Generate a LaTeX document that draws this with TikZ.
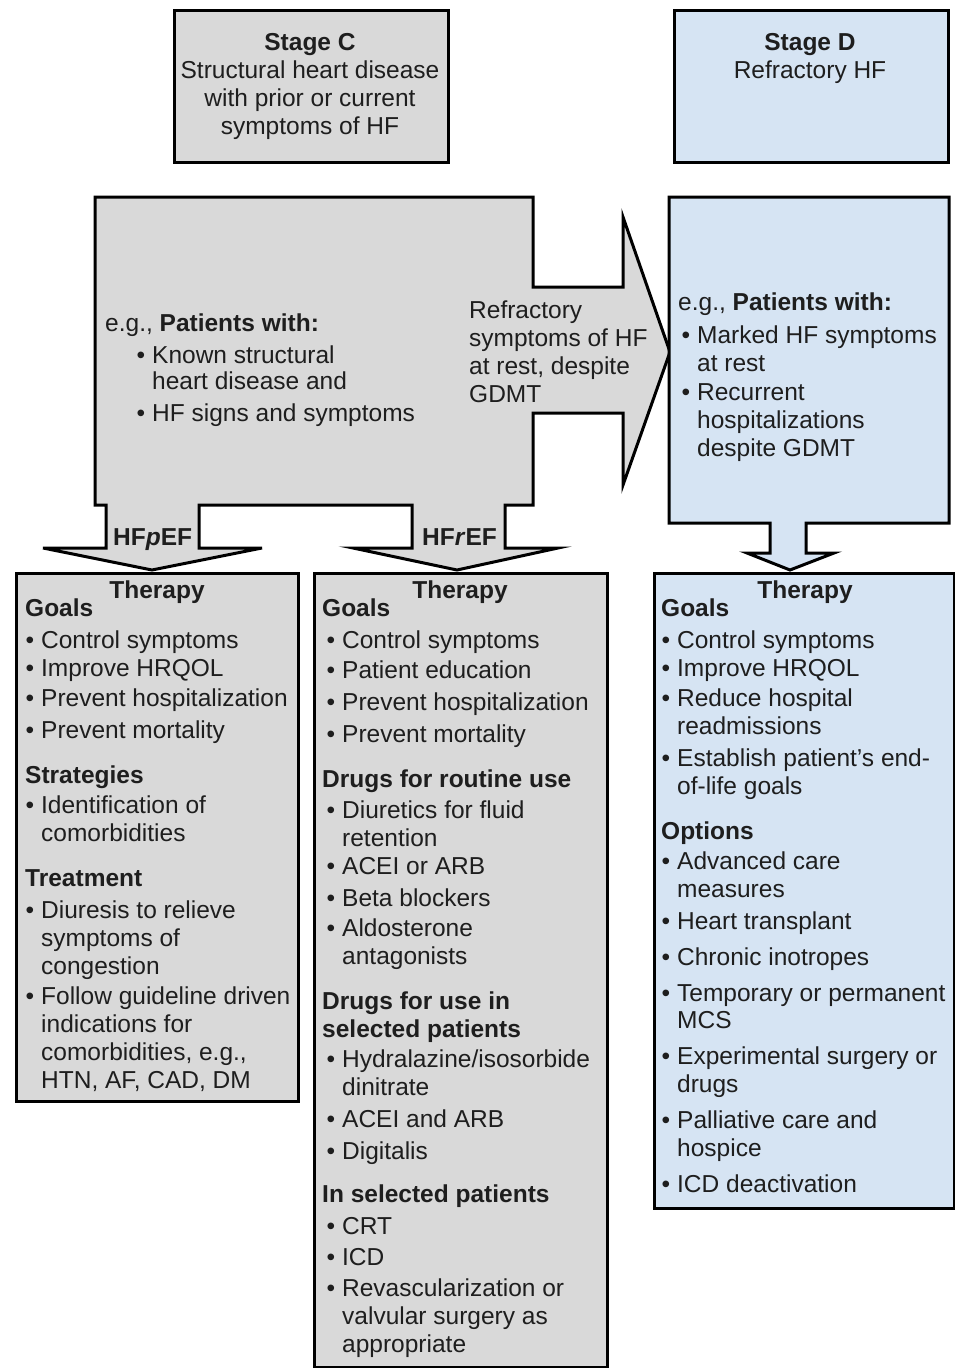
\documentclass[tikz,border=0pt]{standalone}
\usepackage{fontspec}
\setmainfont{Liberation Sans}
\definecolor{gfill}{RGB}{217,217,217}
\definecolor{bfill}{RGB}{214,228,243}
\definecolor{ink}{RGB}{30,30,30}
\newcounter{lnc}
\newcommand{\Tl}[3]{\stepcounter{lnc}\node[tl] (ln\arabic{lnc}) at (#1,#2+8.5) {#3};}
\newcommand{\Tc}[3]{\stepcounter{lnc}\node[tc] (ln\arabic{lnc}) at (#1,#2+8.5) {#3};}
\newcommand{\Tb}[3]{\stepcounter{lnc}\node[tl] (ln\arabic{lnc}) at (#1,#2+8.5) {\llap{\textbullet\hspace{7pt}}#3};}
\tikzset{
  tl/.style={anchor=base west, inner sep=0pt, text=ink, font=\fontsize{24.5}{28}\selectfont},
  tc/.style={anchor=base, inner sep=0pt, text=ink, font=\fontsize{24.5}{28}\selectfont},
  outl/.style={draw=black, line width=3pt, line join=miter},
  boxg/.style={outl, fill=gfill, anchor=north west, inner sep=0pt},
  boxb/.style={outl, fill=bfill, anchor=north west, inner sep=0pt},
}
\begin{document}
\begin{tikzpicture}[x=1pt, y=-1pt]
\useasboundingbox (0,0) rectangle (954,1368);
\fill[white] (0,0) rectangle (954,1368);
% top stage boxes
\node[boxg, minimum width=274pt, minimum height=152pt] (stC) at (173,9) {};
\node[boxb, minimum width=274pt, minimum height=152pt] (stD) at (673,9) {};
% big stage C shape with arrows
\draw[outl, fill=gfill] (95,197) -- (533,197) -- (533,287) -- (623,287) -- (623,217)
  -- (670,352) -- (623,485) -- (623,413) -- (533,413) -- (533,505) -- (505,505)
  -- (505,548) -- (558,548) -- (457,570) -- (353,548) -- (412,548) -- (412,505)
  -- (199,505) -- (199,548) -- (262,548) -- (152,570) -- (43,548) -- (106,548)
  -- (106,505) -- (95,505) -- cycle;
% stage D middle box with arrow
\draw[outl, fill=bfill] (669,197) -- (949,197) -- (949,523) -- (806,523) -- (806,553)
  -- (834,553) -- (790,570) -- (747,553) -- (770,553) -- (770,523) -- (669,523) -- cycle;
% therapy boxes
\node[boxg, minimum width=282pt, minimum height=528pt] (thL) at (15,572) {};
\node[boxg, minimum width=293pt, minimum height=794pt] (thM) at (313,572) {};
\node[boxb, minimum width=300pt, minimum height=635pt] (thR) at (653,572) {};
% stage texts
\Tc{310}{42}{\textbf{Stage C}}
\Tc{310}{70}{Structural heart disease}
\Tc{310}{98}{with prior or current}
\Tc{310}{126}{symptoms of HF}
\Tc{810}{42}{\textbf{Stage D}}
\Tc{810}{70}{Refractory HF}
% big box text
\Tl{105}{323}{e.g., \textbf{Patients with:}}
\Tb{152}{355}{Known structural}
\Tl{152}{381}{heart disease and}
\Tb{152}{413}{HF signs and symptoms}
\Tl{469}{310}{Refractory}
\Tl{469}{338}{symptoms of HF}
\Tl{469}{366}{at rest, despite}
\Tl{469}{394}{GDMT}
% stage D box text
\Tl{678}{302}{e.g., \textbf{Patients with:}}
\Tb{697}{335}{Marked HF symptoms}
\Tl{697}{363}{at rest}
\Tb{697}{392}{Recurrent}
\Tl{697}{420}{hospitalizations}
\Tl{697}{448}{despite GDMT}
% arrow labels
\Tl{113}{537}{\textbf{HF\textit{p}EF}}
\Tl{422}{537}{\textbf{HF\textit{r}EF}}
% left therapy
\Tc{157}{590}{\textbf{Therapy}}
\Tl{25}{608}{\textbf{Goals}}
\Tb{41}{640}{Control symptoms}
\Tb{41}{668}{Improve HRQOL}
\Tb{41}{698}{Prevent hospitalization}
\Tb{41}{730}{Prevent mortality}
\Tl{25}{775}{\textbf{Strategies}}
\Tb{41}{805}{Identification of}
\Tl{41}{833}{comorbidities}
\Tl{25}{878}{\textbf{Treatment}}
\Tb{41}{910}{Diuresis to relieve}
\Tl{41}{938}{symptoms of}
\Tl{41}{966}{congestion}
\Tb{41}{996}{Follow guideline driven}
\Tl{41}{1024}{indications for}
\Tl{41}{1052}{comorbidities, e.g.,}
\Tl{41}{1080}{HTN, AF, CAD, DM}
% middle therapy
\Tc{460}{590}{\textbf{Therapy}}
\Tl{322}{608}{\textbf{Goals}}
\Tb{342}{640}{Control symptoms}
\Tb{342}{670}{Patient education}
\Tb{342}{702}{Prevent hospitalization}
\Tb{342}{734}{Prevent mortality}
\Tl{322}{779}{\textbf{Drugs for routine use}}
\Tb{342}{810}{Diuretics for fluid}
\Tl{342}{838}{retention}
\Tb{342}{866}{ACEI or ARB}
\Tb{342}{898}{Beta blockers}
\Tb{342}{928}{Aldosterone}
\Tl{342}{956}{antagonists}
\Tl{322}{1001}{\textbf{Drugs for use in}}
\Tl{322}{1029}{\textbf{selected patients}}
\Tb{342}{1059}{Hydralazine/isosorbide}
\Tl{342}{1087}{dinitrate}
\Tb{342}{1119}{ACEI and ARB}
\Tb{342}{1151}{Digitalis}
\Tl{322}{1194}{\textbf{In selected patients}}
\Tb{342}{1226}{CRT}
\Tb{342}{1257}{ICD}
\Tb{342}{1288}{Revascularization or}
\Tl{342}{1316}{valvular surgery as}
\Tl{342}{1344}{appropriate}
% right therapy
\Tc{805}{590}{\textbf{Therapy}}
\Tl{661}{608}{\textbf{Goals}}
\Tb{677}{640}{Control symptoms}
\Tb{677}{668}{Improve HRQOL}
\Tb{677}{698}{Reduce hospital}
\Tl{677}{726}{readmissions}
\Tb{677}{758}{Establish patient's end-}
\Tl{677}{786}{of-life goals}
\Tl{661}{831}{\textbf{Options}}
\Tb{677}{861}{Advanced care}
\Tl{677}{889}{measures}
\Tb{677}{921}{Heart transplant}
\Tb{677}{957}{Chronic inotropes}
\Tb{677}{993}{Temporary or permanent}
\Tl{677}{1020}{MCS}
\Tb{677}{1056}{Experimental surgery or}
\Tl{677}{1084}{drugs}
\Tb{677}{1120}{Palliative care and}
\Tl{677}{1148}{hospice}
\Tb{677}{1184}{ICD deactivation}
\end{tikzpicture}
\end{document}
